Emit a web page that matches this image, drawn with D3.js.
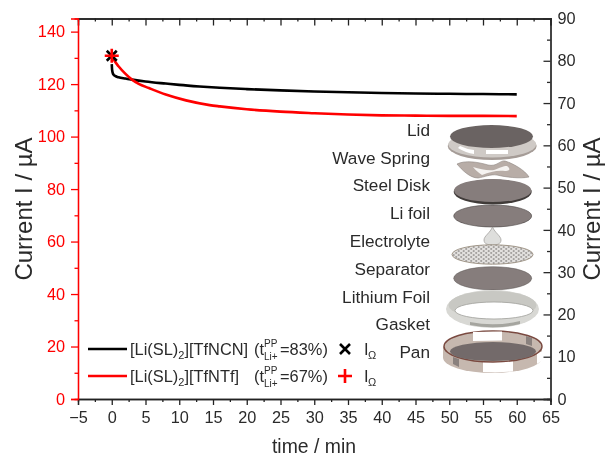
<!DOCTYPE html>
<html><head><meta charset="utf-8">
<script src="https://cdn.jsdelivr.net/npm/d3@7"></script>
<style>html,body{margin:0;background:#fff}svg{display:block}text{font-family:"Liberation Sans",Arial,sans-serif}</style>
</head><body><div id="c"></div>
<script>
const timeMin=[0,0.05,0.15,0.3,0.6,1,2,3,5,8,10,13,16,20,25,30,35,40,45,50,55,60];
const blackI=[127.6,125.5,124.2,123.5,123,122.6,122.1,121.7,121,120.2,119.7,119.1,118.6,118.1,117.6,117.2,116.9,116.6,116.4,116.3,116.2,116.1];
const redTime=[0,0.5,1,2,3,4,5.5,8,11,14.5,16,20,25,30,35,40,45,50,55,60];
const redI=[130.8,128.5,126.8,124,121.7,120.1,118.5,116,113.8,112,111.5,110.4,109.5,108.9,108.4,108.1,108,107.9,107.9,107.8];
const ohmicI=[130.8];
const xTicks=d3.range(-5,66,5);
const yLeftTicks=[0,20,40,60,80,100,120,140];
const yRightTicks=d3.range(0,91,10);
const partLabels=["Lid","Wave Spring","Steel Disk","Li foil","Electrolyte","Separator","Lithium Foil","Gasket","Pan"];
const partY=[130,158,185,213,241,269,297,324,352];
const RED="#ff0000",INK="#2b2b2b";

const svg=d3.select("#c").append("svg").attr("width",605).attr("height",456);
const defs=svg.append("defs");
defs.append("filter").attr("id","soft").append("feGaussianBlur").attr("stdDeviation",0.5);
defs.append("filter").attr("id","softAll").attr("x",0).attr("y",0).attr("width",1).attr("height",1).attr("filterUnits","objectBoundingBox").append("feGaussianBlur").attr("stdDeviation",0.3);
svg.append("rect").attr("width",605).attr("height",456).attr("fill","#fff");
const root=svg.append("g").attr("filter","url(#softAll)");
root.append("rect").attr("width",605).attr("height",456).attr("fill","#fff");

const x=d3.scaleLinear().domain([-5,65]).range([78,550.5]);
const yL=d3.scaleLinear().domain([0,145]).range([399,18.5]);
const yR=d3.scaleLinear().domain([0,90]).range([399,18.5]);

function drawAxis(gen,tx,ty,color,labels){
  const g=root.append("g").attr("transform",`translate(${tx},${ty})`).call(gen);
  g.selectAll("path,line").attr("stroke",color).attr("stroke-width",1.3);
  g.selectAll("text").attr("fill",labels).attr("font-size",16.3);
  return g;
}
// minor ticks
drawAxis(d3.axisBottom(x).tickValues(d3.range(-2.5,65,5)).tickSize(3).tickFormat(""),0,399,"#222",INK);
drawAxis(d3.axisTop(x).tickValues(d3.range(-2.5,65,5)).tickSize(-3).tickFormat(""),0,18.5,"#222",INK);
drawAxis(d3.axisLeft(yL).tickValues(d3.range(10,145,20)).tickSize(3.5).tickFormat(""),78,0,RED,RED);
drawAxis(d3.axisRight(yR).tickValues(d3.range(5,90,10)).tickSize(-3.5).tickFormat(""),550.5,0,INK,INK);
// major
drawAxis(d3.axisTop(x).tickValues(xTicks).tickSize(-7).tickFormat(""),0,18.5,"#222",INK);
drawAxis(d3.axisBottom(x).tickValues(xTicks).tickSize(6).tickPadding(6).tickFormat(d=>d<0?"\u2212"+(-d):d),0,399,"#222",INK);
drawAxis(d3.axisLeft(yL).tickValues(yLeftTicks).tickSize(7).tickPadding(6),78,0,RED,RED);
drawAxis(d3.axisRight(yR).tickValues(yRightTicks).tickSize(-7).tickPadding(7),550.5,0,INK,INK);

// axis titles
root.append("text").attr("x",314).attr("y",452.5).attr("text-anchor","middle").attr("font-size",19.4).attr("fill",INK).text("time / min");
root.append("text").attr("transform","translate(31.5,209) rotate(-90)").attr("text-anchor","middle").attr("font-size",24).attr("fill",INK).text("Current I / \u00b5A");
root.append("text").attr("transform","translate(599.5,209) rotate(-90)").attr("text-anchor","middle").attr("font-size",24).attr("fill",INK).text("Current I / \u00b5A");

// curves
const line=d3.line().x(d=>x(d[0])).y(d=>yL(d[1])).curve(d3.curveMonotoneX);
root.append("path").attr("d",line(timeMin.map((t,i)=>[t,blackI[i]]))).attr("fill","none").attr("stroke","#000").attr("stroke-width",2.6);
root.append("path").attr("d",line(redTime.map((t,i)=>[t,redI[i]]))).attr("fill","none").attr("stroke",RED).attr("stroke-width",2.6);

// markers
function xm(px,py){const r=5;root.append("path").attr("d",`M${px-r},${py-r}L${px+r},${py+r}M${px-r},${py+r}L${px+r},${py-r}`).attr("stroke","#000").attr("stroke-width",2.6).attr("fill","none")}
function pm(px,py){const r=7;root.append("path").attr("d",`M${px-r},${py}L${px+r},${py}M${px},${py-r}L${px},${py+r}`).attr("stroke",RED).attr("stroke-width",2.6).attr("fill","none")}
xm(x(0),yL(ohmicI[0]));pm(x(0),yL(ohmicI[0]));

// legend
const legend=root.append("g").attr("fill",INK).attr("font-size",16.4);
function legendRow(yc,color,name,pct,markFn){
  root.append("line").attr("x1",88).attr("x2",127).attr("y1",yc).attr("y2",yc).attr("stroke",color).attr("stroke-width",2.4);
  const t=legend.append("text").attr("x",130).attr("y",yc+5.5);
  t.append("tspan").text("[Li(SL)");
  t.append("tspan").attr("font-size",11).attr("dy",4).text("2");
  t.append("tspan").attr("dy",-4).text(name);
  legend.append("text").attr("x",254).attr("y",yc+5.5).text("(t");
  legend.append("text").attr("x",264).attr("y",yc-2).attr("font-size",10).text("PP");
  legend.append("text").attr("x",264).attr("y",yc+11).attr("font-size",10).text("Li+");
  legend.append("text").attr("x",280).attr("y",yc+5.5).text("="+pct+"%)");
  markFn(345,yc);
  legend.append("text").attr("x",364).attr("y",yc+5.5).text("I");
  legend.append("text").attr("x",368).attr("y",yc+10).attr("font-size",11).text("\u03a9");
}
legendRow(349,"#000","][TfNCN]",83,xm);
legendRow(376,RED,"][TfNTf]",67,pm);

// exploded coin-cell illustration
const art=root.append("g").attr("class","coin-cell");
const pat=defs.append("pattern").attr("id","mesh").attr("width",5).attr("height",4).attr("patternUnits","userSpaceOnUse");
pat.append("rect").attr("width",5).attr("height",4).attr("fill","#e2e0de");
pat.append("circle").attr("cx",1.2).attr("cy",1).attr("r",1.05).attr("fill","#a3a09e");
pat.append("circle").attr("cx",3.7).attr("cy",3).attr("r",1.05).attr("fill","#a3a09e");
art.attr("filter","url(#soft)");
function el(cx,cy,rx,ry,fill,stroke,sw){return art.append("ellipse").attr("cx",cx).attr("cy",cy).attr("rx",rx).attr("ry",ry).attr("fill",fill).attr("stroke",stroke||"none").attr("stroke-width",sw||0)}
function pth(d,fill,stroke,sw){return art.append("path").attr("d",d).attr("fill",fill).attr("stroke",stroke||"none").attr("stroke-width",sw||0)}
// lid
el(492.2,146,44.5,14,"#a59c97");
el(492.2,144.5,44,13,"#cfcac6");
pth("M458,148 Q466,153 474,154 L474,150 Q466,149 460,146Z M486,150 L508,150 L508,154 L486,154Z","#fff");
el(491.5,136.5,41.5,11.5,"#6b6462");
// spring
pth("M457,164 C465,160 478,162 488,165 C497,167 500,160 505,161 C512,163 525,170 529,177 C520,179 505,177 497,175 C490,174 485,177 478,178 C470,178 462,170 457,164Z","#b8ada7","#8d8480",0.6);
pth("M473,167 C480,169 488,171 494,170 C500,168 503,166 507,166 C512,170 508,171 505,171 C497,170 490,172 482,175 C478,172 475,170 473,167Z","#f5f3f1");
// steel disk
el(492.7,192,39,12.5,"#3f3a39");
el(492.7,190.5,38.7,11.5,"#867d7c");
// li foil
el(492.7,216,39,11,"#867d7c","#4a4543",0.6);
// drop
pth("M492.5,227 C495,233 501,236 501,240 C501,244 497,245 492.5,245 C488,245 484,244 484,240 C484,236 490,233 492.5,227Z","#dededc","#9a9794",0.7);
// separator
el(492.5,254.5,40.5,9.7,"url(#mesh)","#9a8f80",0.9);
// lithium foil
el(492.7,278.3,39,11.6,"#867d7c","#5a5553",0.5);
// gasket
el(492.5,309,46.5,19,"#d8d8d4");
el(492.5,305,44,14,"#c8c8c3");
pth("M470,322 Q495,327 520,321 L520,324 Q495,330 470,325Z","#a5a59f");
el(494,310.5,39,8.5,"#fff","#9f9f9a",0.8);
// pan
pth("M443,346.5 L443,357.5 A49.5,15.5 0 0 0 542,357.5 L542,346.5Z","#c6b8af");
pth("M483,361 L513,360.5 L513,371.5 Q498,373 483,372Z","#fff");
pth("M453,357 L459,359 L459,367 L453,364Z","#8a817e");
pth("M537,353 L543,351 L543,360 L537,364Z","#fff");
el(493,346.5,49,15.5,"#c6b8af","#7a4a40",1.4);
pth("M473,332 L502,331.5 L502,340.5 L473,341Z","#fff");
pth("M526,336 L532,338 L532,346 L526,344Z","#8a817e");
el(493,351.5,43,9.5,"#736b6a");

// part labels
root.append("g").selectAll("text").data(partLabels).join("text")
 .attr("x",430).attr("y",(d,i)=>partY[i]+6).attr("text-anchor","end").attr("font-size",17.2).attr("fill",INK).text(d=>d);
</script></body></html>
